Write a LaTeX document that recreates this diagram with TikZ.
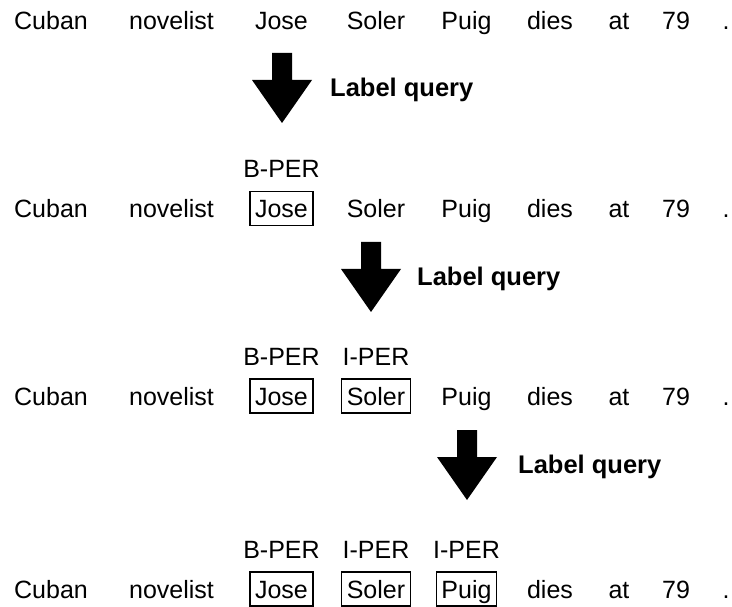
\documentclass[tikz,border=0pt]{standalone}
\usepackage{fontspec}
\setmainfont{Liberation Sans}
\usetikzlibrary{positioning}
\tikzset{
  tok/.style={font=\fontsize{25}{29}\selectfont, inner xsep=5pt, inner ysep=5pt,
    text height=21pt, text depth=3pt, line width=1.3pt},
  tag/.style={font=\fontsize{25}{29}\selectfont, inner sep=0pt,
    text height=17pt, text depth=0pt},
  qlabel/.style={font=\fontsize{25.5}{29}\selectfont\bfseries, inner sep=0pt,
    text height=17pt, text depth=0pt, anchor=west},
  % thick block arrow pointing down, (-ear) sits beside the head
  qarrow/.pic={
    \fill (-10,0) -- (10,0) -- (10,27) -- (30,27) -- (0,70) -- (-30,27) -- (-10,27) -- cycle;
    \coordinate (-ear) at (30,35);
  },
}

\begin{document}
\begin{tikzpicture}[x=1pt, y=-1pt]
  \useasboundingbox (0,0) rectangle (732,607);

  % the sentence four times, tagged words get a frame
  \foreach \row/\ty/\nb in {1/21/0, 2/208.5/1, 3/396/2, 4/589/3} {
    \foreach \w/\x [count=\i] in {Cuban/51, novelist/171.5, Jose/281.5, Soler/376,
        Puig/466.5, dies/550, at/619, 79/676, ./726} {
      \def\bcol{none}
      \ifnum\i>2 \ifnum\i<\numexpr\nb+3\relax \def\bcol{black}\fi\fi
      \node[tok, draw=\bcol] (w\row\i) at (\x,\ty) {\w};
    }
  }

  % tags
  \node[tag, above=13pt of w23] (t23) {B-PER};
  \node[tag, above=13pt of w33] (t33) {B-PER};
  \node[tag, above=13pt of w34] (t34) {I-PER};
  \node[tag, above=13pt of w43] (t43) {B-PER};
  \node[tag, above=13pt of w44] (t44) {I-PER};
  \node[tag, above=13pt of w45] (t45) {I-PER};

  % query steps
  \pic (q1) at (282,53) {qarrow};
  \pic (q2) at (371,242) {qarrow};
  \pic (q3) at (467,430) {qarrow};
  \node[qlabel, right=18pt of q1-ear] (l1) {Label query};
  \node[qlabel, right=16pt of q2-ear] (l2) {Label query};
  \node[qlabel, right=21pt of q3-ear] (l3) {Label query};
\end{tikzpicture}
\end{document}
